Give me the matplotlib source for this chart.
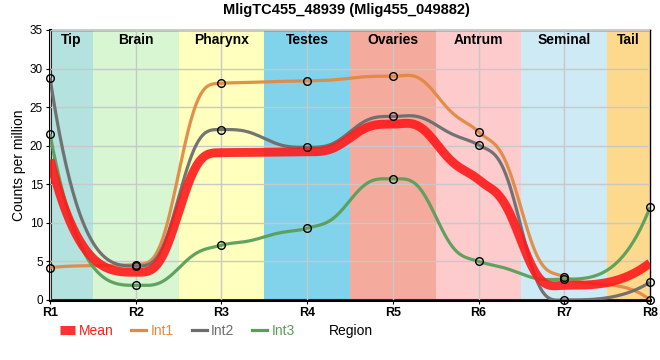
import numpy as np
import matplotlib
matplotlib.use("Agg")
import matplotlib.pyplot as plt
from matplotlib.lines import Line2D

plt.rcParams['font.family'] = ['Liberation Sans', 'DejaVu Sans']

# data
regions = ['R1', 'R2', 'R3', 'R4', 'R5', 'R6', 'R7', 'R8']
tissues = ['Tip', 'Brain', 'Pharynx', 'Testes', 'Ovaries', 'Antrum', 'Seminal', 'Tail']
tissue_colors = ['#b3e2df', '#d8f6d2', '#ffffbe', '#80d3eb', '#f4aa9c', '#fdcbcc', '#ceeaf4', '#fdd98e']
mean_vals = [18.2, 3.6, 19.1, 19.2, 22.8, 15.6, 1.9, 4.8]
int1 = [4.2, 4.6, 28.1, 28.4, 29.0, 21.8, 3.0, 0.0]
int2 = [28.8, 4.4, 22.1, 19.8, 23.8, 20.1, 0.0, 2.3]
int3 = [21.5, 1.9, 7.1, 9.3, 15.7, 5.0, 2.7, 12.0]


# monotone slopes, ends pushed to the steepest allowed value
def slopes(x, y):
    x = np.asarray(x, float)
    y = np.asarray(y, float)
    h = np.diff(x)
    d = np.diff(y) / h
    m = np.zeros_like(y)
    for k in range(1, len(y) - 1):
        if d[k - 1] * d[k] > 0:
            w1 = 2 * h[k] + h[k - 1]
            w2 = h[k] + 2 * h[k - 1]
            m[k] = (w1 + w2) / (w1 / d[k - 1] + w2 / d[k])
    m[0] = 3 * d[0]
    m[-1] = 3 * d[-1]
    return m


def smooth_line(x, y, n=80):
    x = np.asarray(x, float)
    y = np.asarray(y, float)
    m = slopes(x, y)
    xs, ys = [], []
    for k in range(len(x) - 1):
        t = np.linspace(0, 1, n)
        s = 3 * t**2 - 2 * t**3
        if 0 < k < len(x) - 2:
            s = 3 * s**2 - 2 * s**3  # inner segments: sharper step
        h = x[k + 1] - x[k]
        seg = y[k] + (y[k + 1] - y[k]) * s + h * (m[k] * t * (1 - t)**2 + m[k + 1] * t**2 * (t - 1))
        xs.append(x[k] + h * t)
        ys.append(seg)
    return np.concatenate(xs), np.concatenate(ys)


xpos = np.arange(1, len(regions) + 1)

fig = plt.figure(figsize=(6.6, 3.6), dpi=100)
ax = fig.add_axes([50 / 660, 60 / 360, 600 / 660, 270 / 360])

# tissue bands
for i, (name, col) in enumerate(zip(tissues, tissue_colors)):
    lo = max(xpos[i] - 0.5, xpos[0])
    hi = min(xpos[i] + 0.5, xpos[-1])
    ax.axvspan(lo, hi, color=col, lw=0, zorder=0)
    ax.text((lo + hi) / 2, 34.6, name, ha='center', va='top', fontsize=10,
            fontweight='bold', zorder=5)

ax.grid(True, color='#c8c8c8', lw=1, zorder=1)
ax.set_axisbelow(False)

line_cols = ['#e08a45', '#6c6c6c', '#5a9e5a']
for vals, col in zip([int1, int2, int3], line_cols):
    sx, sy = smooth_line(xpos, vals)
    ax.plot(sx, sy, color=col, lw=2.3, alpha=0.95, zorder=3, solid_capstyle='butt')

sx, sy = smooth_line(xpos, mean_vals)
ax.plot(sx, sy, color='#ff1a1a', lw=6.4, alpha=0.9, zorder=4, solid_capstyle='butt')

for vals in [int1, int2, int3]:
    ax.plot(xpos, vals, 'o', ms=5.5, mfc='none', mec='black', mew=1, zorder=6, clip_on=False)

ax.set_xlim(1, 8)
ax.set_ylim(0, 35)
ax.set_xticks(xpos)
ax.set_xticklabels(regions, fontweight='bold', fontsize=9)
ax.set_yticks(np.arange(0, 36, 5))
ax.tick_params(axis='y', labelsize=8.5, length=3, pad=2)
ax.tick_params(axis='x', length=3, pad=2)
for side in ['left', 'bottom']:
    ax.spines[side].set_linewidth(2.2)
for side in ['top', 'right']:
    ax.spines[side].set_linewidth(1)
ax.set_ylabel('Counts per million', fontsize=10, labelpad=3)

fig.text(346 / 660, 1 - 10 / 360, 'MligTC455_48939 (Mlig455_049882)', ha='center', va='center',
         fontsize=10.5, fontweight='bold')

handles = [Line2D([], [], color='#ff1a1a', lw=6.5, alpha=0.9, solid_capstyle='butt'),
           Line2D([], [], color=line_cols[0], lw=2.3),
           Line2D([], [], color=line_cols[1], lw=2.3),
           Line2D([], [], color=line_cols[2], lw=2.3)]
fig.legend(handles, ['Mean', 'Int1', 'Int2', 'Int3'], loc='center left',
           bbox_to_anchor=(47 / 660, 1 - 331 / 360), ncol=4, frameon=False,
           labelcolor='linecolor', fontsize=10, handlelength=1.08, handletextpad=0.3,
           columnspacing=1.3)
fig.text(351 / 660, 1 - 331 / 360, 'Region', ha='center', va='center', fontsize=10)

plt.savefig('out.png', dpi=100)
